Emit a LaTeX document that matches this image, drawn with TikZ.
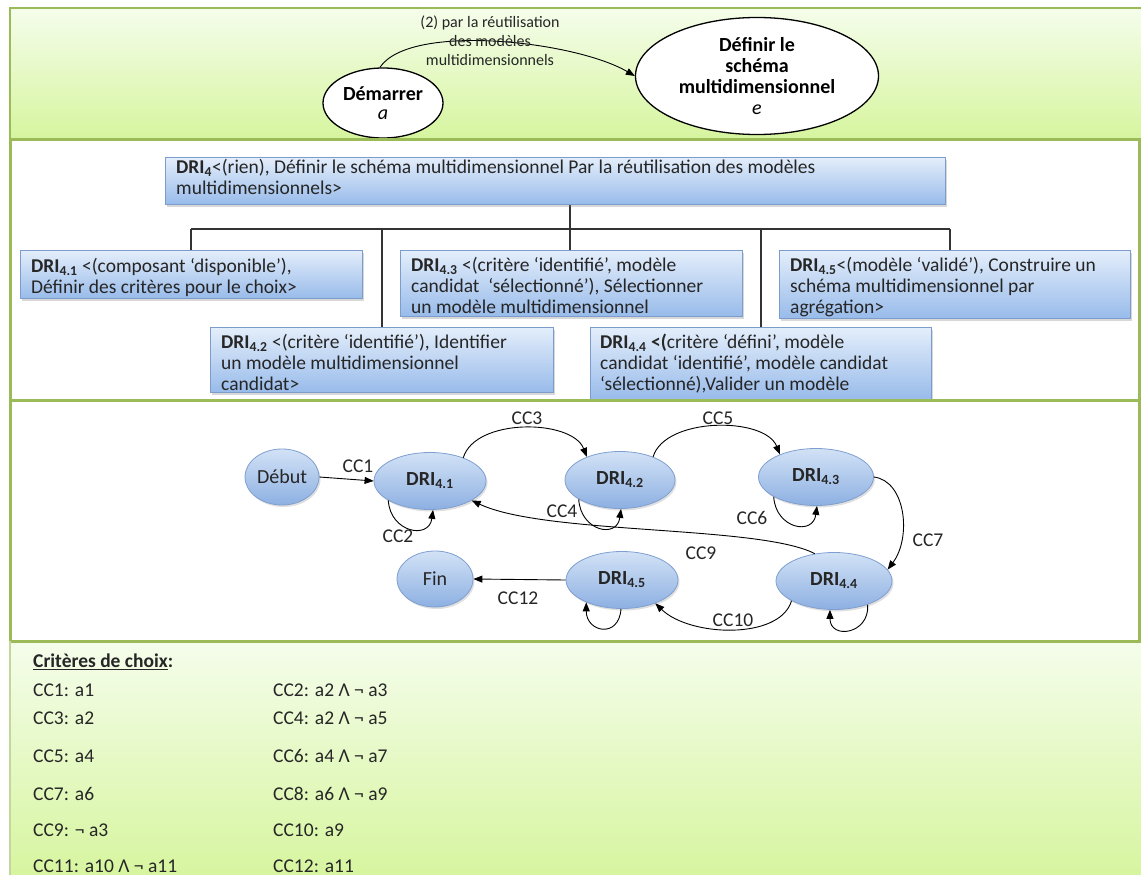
\documentclass[tikz,border=0pt]{standalone}
\usepackage{fontspec}
\setmainfont{Carlito}
\usetikzlibrary{arrows.meta,shadows,shapes.geometric}
\definecolor{pgreen}{HTML}{9BBB59}
\definecolor{gtop}{HTML}{F5FDEB}
\definecolor{gbot}{HTML}{D6F59E}
\definecolor{btop}{HTML}{E4EEFB}
\definecolor{bbot}{HTML}{98BBEA}
\definecolor{bborder}{HTML}{7C9DCC}
\definecolor{etop}{HTML}{D2E2F6}
\definecolor{ebot}{HTML}{8DB0E2}
\definecolor{eborder}{HTML}{7F9FD0}
\definecolor{txt}{HTML}{262626}
\begin{document}
\begin{tikzpicture}[x=1pt,y=-1pt,
  panelline/.style={draw=pgreen,line width=3pt},
  greenfill/.style={top color=gtop,bottom color=gbot},
  topell/.style={ellipse,draw=black,line width=1.3pt,fill=white,inner sep=0,align=center,text=black},
  arr/.style={draw=black,line width=0.9pt,-{Triangle[length=9pt,width=7pt]}},
  tree/.style={draw=black!80,line width=1.2pt},
  dribox/.style={draw=bborder,line width=0.8pt,top color=btop,bottom color=bbot,
     drop shadow={opacity=0.3,shadow xshift=2pt,shadow yshift=-3pt},anchor=north west,inner sep=0},
  boxtxt/.style={anchor=north west,align=left,inner sep=0,text=txt,font=\fontsize{19.5}{21}\selectfont},
  gnode/.style={ellipse,draw=eborder,line width=0.8pt,top color=etop,bottom color=ebot,inner sep=0,
     minimum width=112pt,minimum height=57pt,text=txt,font=\fontsize{20}{22}\selectfont,
     drop shadow={opacity=0.25,shadow xshift=1.5pt,shadow yshift=-2pt}},
  lbl/.style={inner sep=0,text=txt,font=\fontsize{19.5}{21}\selectfont},
  crit/.style={anchor=west,inner sep=0,text=txt,font=\fontsize{19.5}{21}\selectfont}
]
\useasboundingbox (0,0) rectangle (1141,875);
\fill[white] (0,0) rectangle (1141,875);

% ---------- panels backgrounds
\path[greenfill] (10,8) rectangle (1150,139);
\path[greenfill] (10,641) rectangle (1150,880);

% ---------- panel 1
\node[topell,minimum width=120pt,minimum height=70pt,font=\fontsize{20}{19}\selectfont] (dem) at (383,103)
  {\textbf{Démarrer}\\\textit{a}};
\node[topell,minimum width=243pt,minimum height=117pt,font=\fontsize{20}{21}\selectfont] (def) at (757,76)
  {\textbf{Définir le}\\\textbf{schéma}\\\textbf{multidimensionnel}\\\textit{e}};
\draw[arr] (dem.95) .. controls +(30,-45) and +(-60,-35) .. (def.west);
\node[inner sep=0,align=center,text=black!85,font=\fontsize{16}{19}\selectfont] (lab1) at (490,41)
  {(2) par la réutilisation\\des modèles\\multidimensionnels};

% ---------- panel 2
\draw[tree] (570,204) -- (570,250);
\draw[tree] (191,229) -- (950,229);
\draw[tree] (191,229) -- (191,250);
\draw[tree] (382,229) -- (382,327);
\draw[tree] (761,229) -- (761,327);
\draw[tree] (950,229) -- (950,250);

\node[dribox,minimum width=780pt,minimum height=47pt] (b4) at (165,157) {};
\node[boxtxt] (t4) at (176,159)
  {\textbf{DRI}\textsubscript{\textbf{4}}<(rien), Définir le schéma multidimensionnel Par la réutilisation des modèles\\multidimensionnels>};

\node[dribox,minimum width=342pt,minimum height=48pt] (b41) at (20,250) {};
\node[boxtxt] (t41) at (31,258)
  {\textbf{DRI\textsubscript{4.1}} <(composant ‘disponible’),\\Définir des critères pour le choix>};

\node[dribox,minimum width=342pt,minimum height=66pt] (b43) at (400,250) {};
\node[boxtxt] (t43) at (411,257)
  {\textbf{DRI\textsubscript{4.3}} <(critère ‘identifié’, modèle\\candidat\ \ ‘sélectionné’), Sélectionner\\un modèle multidimensionnel};

\node[dribox,minimum width=351pt,minimum height=68pt] (b45) at (779,250) {};
\node[boxtxt] (t45) at (790,257)
  {\textbf{DRI\textsubscript{4.5}}<(modèle ‘validé’), Construire un\\schéma multidimensionnel par\\agrégation>};

\node[dribox,minimum width=343pt,minimum height=65pt] (b42) at (210,327) {};
\node[boxtxt] (t42) at (221,334)
  {\textbf{DRI\textsubscript{4.2}} <(critère ‘identifié’), Identifier\\un modèle multidimensionnel\\candidat>};

\node[dribox,minimum width=341pt,minimum height=72pt] (b44) at (590,327) {};
\node[boxtxt] (t44) at (600,334)
  {\textbf{DRI\textsubscript{4.4} <(}critère ‘défini’, modèle\\candidat ‘identifié’, modèle candidat\\‘sélectionné),Valider un modèle};

% ---------- panel 3
\node[gnode,minimum width=74pt,minimum height=56pt] (deb) at (282,477) {Début};
\node[gnode] (d41) at (430,481) {\textbf{DRI\textsubscript{4.1}}};
\node[gnode,minimum width=110pt] (d42) at (620,480) {\textbf{DRI\textsubscript{4.2}}};
\node[gnode,minimum width=115pt] (d43) at (816,477) {\textbf{DRI\textsubscript{4.3}}};
\node[gnode,minimum width=116pt] (d44) at (834,581) {\textbf{DRI\textsubscript{4.4}}};
\node[gnode] (d45) at (622,580) {\textbf{DRI\textsubscript{4.5}}};
\node[gnode,minimum width=76pt,minimum height=56pt] (fin) at (435,579) {Fin};

\draw[arr] (deb.east) -- (d41.west);
\draw[arr] (d41.205) .. controls +(2,32) and +(-4,30) .. (d41.276);
\draw[arr] (d41.35) .. controls +(12,-40) and +(-15,-38) .. (d42.145);
\draw[arr] (d42.205) .. controls +(2,32) and +(-4,30) .. (d42.272);
\draw[arr] (d42.35) .. controls +(12,-40) and +(-15,-38) .. (d43.148);
\draw[arr] (d43.205) .. controls +(2,32) and +(-4,30) .. (d43.272);
\draw[arr] (d43.east) .. controls +(32,4) and +(24,-32) .. (d44.12);
\draw[arr] (d44.125) .. controls (760,525) and (545,535) .. (d41.335);
\draw[arr] (d44.205) .. controls (780,640) and (690,637) .. (d45.325);
\draw[arr] (d44.325) .. controls +(2,30) and +(0,30) .. (d44.262);
\draw[arr] (d45.268) .. controls +(-2,30) and +(0,30) .. (d45.212);
\draw[arr] (d45.west) -- (fin.east);

\node[lbl] (cc1) at (358,466) {CC1};
\node[lbl] (cc2) at (398,536) {CC2};
\node[lbl] (cc3) at (527,418) {CC3};
\node[lbl] (cc4) at (562,511) {CC4};
\node[lbl] (cc5) at (718,418) {CC5};
\node[lbl] (cc6) at (752,518) {CC6};
\node[lbl] (cc7) at (928,540) {CC7};
\node[lbl] (cc9) at (701,553) {CC9};
\node[lbl] (cc10) at (733,620) {CC10};
\node[lbl] (cc12) at (518,598) {CC12};

% ---------- panel 4
\node[crit] (head) at (33,662) {\textbf{\underline{Critères de choix}:}};
\node[crit] (c1) at (33,690) {CC1: a1};
\node[crit] (c2) at (273,690) {CC2: a2 Λ ¬ a3};
\node[crit] (c3) at (33,718) {CC3: a2};
\node[crit] (c4) at (273,718) {CC4: a2 Λ ¬ a5};
\node[crit] (c5) at (33,756) {CC5: a4};
\node[crit] (c6) at (273,756) {CC6: a4 Λ ¬ a7};
\node[crit] (c7) at (33,794) {CC7: a6};
\node[crit] (c8) at (273,794) {CC8: a6 Λ ¬ a9};
\node[crit] (c9) at (33,830) {CC9: ¬ a3};
\node[crit] (c10) at (273,830) {CC10: a9};
\node[crit] (c11) at (33,866) {CC11: a10 Λ ¬ a11};
\node[crit] (c12) at (273,866) {CC12: a11};

% ---------- panel borders
\draw[draw=pgreen,line width=2pt] (1150,8) -- (10,8) -- (10,139);
\draw[panelline] (10,139) rectangle (1139,400);
\draw[panelline] (10,400) rectangle (1139,641);
\draw[draw=pgreen!60,line width=2pt] (10,641) -- (10,880);
\end{tikzpicture}
\end{document}
